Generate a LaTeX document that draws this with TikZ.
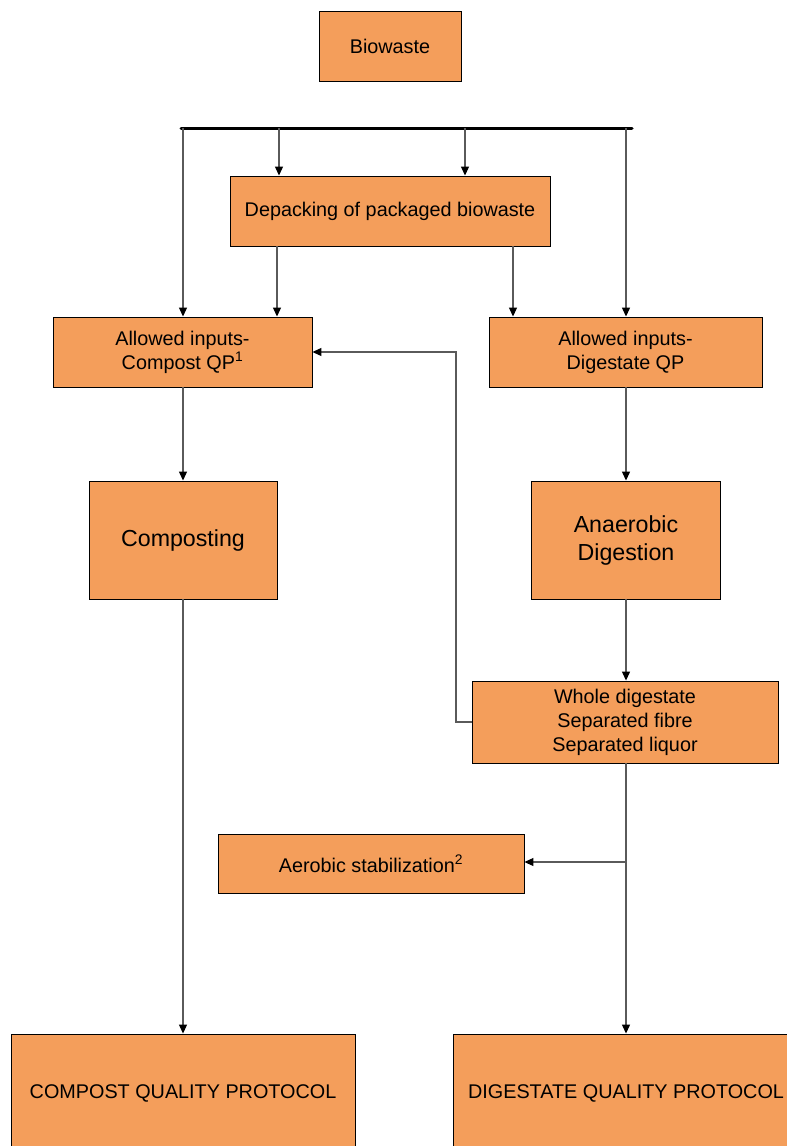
\documentclass[tikz,border=0pt]{standalone}
\usepackage{fontspec}
\setmainfont{Liberation Sans}
\usetikzlibrary{arrows.meta}
\definecolor{boxfill}{RGB}{244,158,91}
\definecolor{linegray}{RGB}{90,90,90}
\begin{document}
\begin{tikzpicture}[x=1pt,y=-1pt,
  box/.style={draw=black,line width=0.9pt,fill=boxfill,inner sep=0pt,align=center,
    font=\fontsize{19.8}{24}\selectfont},
  bigbox/.style={box,font=\fontsize{23.2}{28}\selectfont},
  conn/.style={draw=linegray,line width=1.2pt},
  arr/.style={conn,-{Triangle[length=9pt,width=8pt,fill=black,color=black]}}]
\useasboundingbox (0,0) rectangle (787,1146);
\clip (0,0) rectangle (787,1146);
% nodes
\node[box,minimum width=142pt,minimum height=70pt] (bio) at (390,46) {Biowaste};
\node[box,minimum width=320pt,minimum height=70pt] (dep) at (390,211) {Depacking of packaged biowaste};
\node[box,minimum width=259pt,minimum height=70pt] (acq) at (182.5,352) {Allowed inputs-\\Compost QP\textsuperscript{1}};
\node[box,minimum width=273pt,minimum height=70pt] (adq) at (625.5,352) {Allowed inputs-\\Digestate QP};
\node[bigbox,minimum width=188pt,minimum height=118pt] (comp) at (183,540) {Composting};
\node[bigbox,minimum width=189pt,minimum height=118pt] (ad) at (626,540) {Anaerobic\\Digestion};
\node[box,minimum width=306pt,minimum height=82pt] (whole) at (625,722) {Whole digestate\\Separated fibre\\Separated liquor};
\node[box,minimum width=306pt,minimum height=59pt] (aer) at (371,863.5) {Aerobic stabilization\textsuperscript{2}};
\node[box,minimum width=344pt,minimum height=118pt] (cqp) at (183,1093) {COMPOST QUALITY PROTOCOL};
\node[box,minimum width=346pt,minimum height=118pt] (dqp) at (626,1093) {DIGESTATE QUALITY PROTOCOL};
% bus bar
\coordinate (barL) at (181,128);
\coordinate (barR) at (632,128);
\draw[line width=3pt,line cap=round] (barL) -- (barR);
\coordinate (b1) at (183,128);
\coordinate (b2) at (279,128);
\coordinate (b3) at (465,128);
\coordinate (b4) at (626,128);
\draw[arr] (b1) -- (acq.north -| b1);
\draw[arr] (b2) -- (dep.north -| b2);
\draw[arr] (b3) -- (dep.north -| b3);
\draw[arr] (b4) -- (adq.north -| b4);
% from depacking
\coordinate (d1) at (277,246);
\coordinate (d2) at (513,246);
\draw[arr] (d1) -- (acq.north -| d1);
\draw[arr] (d2) -- (adq.north -| d2);
% main columns
\draw[arr] (acq.south -| comp) -- (comp.north);
\draw[arr] (adq.south -| ad) -- (ad.north);
\draw[arr] (ad.south) -- (whole.north -| ad);
\draw[arr] (comp.south) -- (cqp.north -| comp);
\draw[arr] (whole.south -| dqp) -- (dqp.north);
% feedback
\coordinate (fb) at (456,722);
\draw[arr] (whole.west) -- (fb) -- (fb |- acq.east) -- (acq.east);
% aerobic branch
\coordinate (br) at (626,862);
\draw[arr] (br) -- (aer.east |- br);
\end{tikzpicture}
\end{document}
